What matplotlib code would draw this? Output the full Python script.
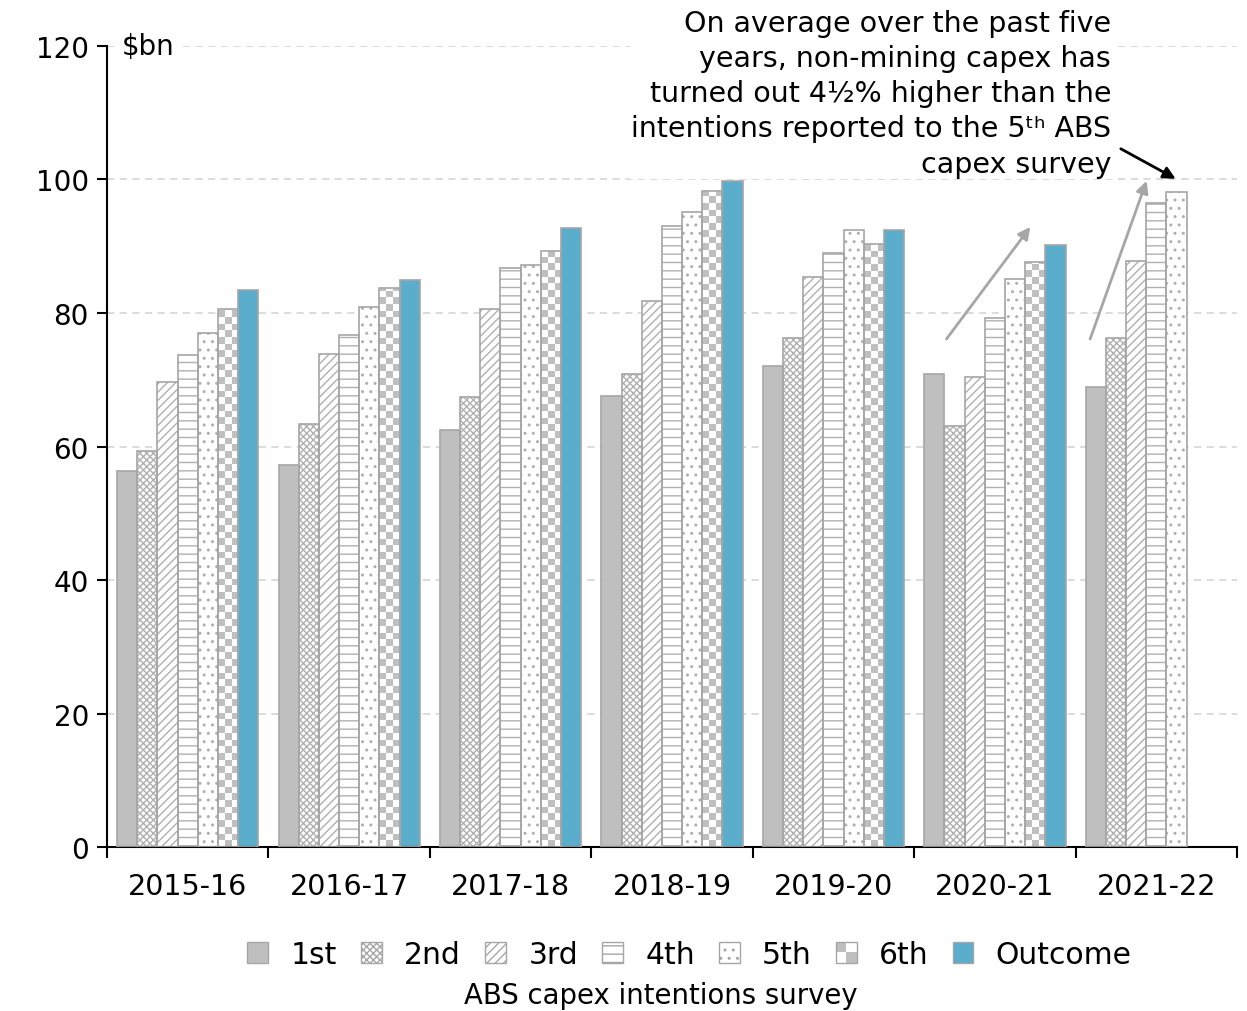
import numpy as np
import matplotlib
matplotlib.use('Agg')
import matplotlib.pyplot as plt
from matplotlib.patches import Patch, Rectangle
from matplotlib.legend_handler import HandlerBase

plt.rcParams['font.family'] = ['DejaVu Sans']
plt.rcParams['hatch.linewidth'] = 1.0

# data ($bn)
years = ['2015-16', '2016-17', '2017-18', '2018-19', '2019-20', '2020-21', '2021-22']
surveys = ['1st', '2nd', '3rd', '4th', '5th', '6th', 'Outcome']
s1st = [56.3, 57.3, 62.4, 67.5, 72.1, 70.8, 68.9]
s2nd = [59.4, 63.3, 67.4, 70.8, 76.2, 63.1, 76.2]
s3rd = [69.7, 73.8, 80.6, 81.8, 85.4, 70.4, 87.8]
s4th = [73.7, 76.7, 86.8, 93.0, 89.0, 79.2, 96.5]
s5th = [77.0, 80.9, 87.2, 95.2, 92.5, 85.1, 98.1]
s6th = [80.6, 83.7, 89.3, 98.3, 90.3, 87.7, np.nan]
outcome = [83.4, 85.0, 92.7, 99.7, 92.5, 90.2, np.nan]
series = [s1st, s2nd, s3rd, s4th, s5th, s6th, outcome]

# annotation arrows (start, end) in data coords
grey_arrows = [((4.70, 76.1), (5.22, 92.9)), ((5.59, 76.1), (5.94, 99.8))]
black_arrow = ((5.78, 104.6), (6.12, 100.1))

EDGE = '#a6a6a6'
HATCH = '#b0b0b0'
FILL = '#bfbfbf'
BLUE = '#5aadcb'
hatches = [None, 'xxxxx', '////', '--', '..', None, None]
faces = [FILL, 'white', 'white', 'white', 'white', 'white', BLUE]

fig = plt.figure(figsize=(12.47, 10.12), dpi=100)
ax = fig.add_axes([0.0858, 0.162, 0.9062, 0.7916])
ax.set_xlim(-0.5, 6.5)
ax.set_ylim(0, 120)

x = np.arange(len(years))
w = 0.125
px_per_unit = 0.7916 * 1012 / 120
sq = 6.7 / px_per_unit  # checker square height in data units

for j, vals in enumerate(series):
    xs = x + (j - 3) * w
    vals = np.array(vals, dtype=float)
    if hatches[j]:
        ax.bar(xs, vals, w, facecolor='white', edgecolor=HATCH, linewidth=0,
               hatch=hatches[j], zorder=2)
    elif j == 5:
        # big checkerboard fill, clipped to each bar
        rects = ax.bar(xs, vals, w, facecolor='white', linewidth=0, zorder=2)
        for r in rects:
            h = r.get_height()
            if not np.isfinite(h) or h <= 0:
                continue
            ny = int(np.ceil(h / sq))
            board = (np.indices((ny, 3)).sum(axis=0) % 2).astype(float)
            im = ax.imshow(board, cmap=matplotlib.colors.ListedColormap(['white', FILL]),
                           extent=(r.get_x(), r.get_x() + w, ny * sq, 0),
                           origin='upper', interpolation='nearest', aspect='auto', zorder=2)
            im.set_clip_path(r)
    else:
        ax.bar(xs, vals, w, facecolor=faces[j], linewidth=0, zorder=2)
    ax.bar(xs, vals, w, facecolor='none', edgecolor=EDGE, linewidth=1.2, zorder=3)

ax.set_xlim(-0.5, 6.5)
ax.set_ylim(0, 120)

# axes styling
for s in ['top', 'right']:
    ax.spines[s].set_visible(False)
ax.spines['left'].set_linewidth(1.5)
ax.spines['bottom'].set_linewidth(1.5)
ax.set_yticks(np.arange(0, 121, 20))
ax.tick_params(axis='y', labelsize=20, length=7, width=1.5, pad=6)
ax.yaxis.grid(True, linestyle=(0, (4, 3)), color='#d9d9d9', linewidth=1.3, zorder=0)
ax.set_axisbelow(True)
ax.set_xticks(x)
ax.set_xticklabels(years)
ax.set_xticks(np.arange(-0.5, 7, 1), minor=True)
ax.tick_params(axis='x', which='major', length=0, labelsize=20.5, pad=18)
ax.tick_params(axis='x', which='minor', length=8, width=1.5)

ax.text(-0.41, 120, r'\$bn', fontsize=20, va='center', ha='left', zorder=4,
        bbox=dict(facecolor='white', edgecolor='none', pad=2))

note = ('On average over the past five\nyears, non-mining capex has\n'
        'turned out 4½% higher than the\nintentions reported to the 5ᵗʰ ABS\n'
        'capex survey')
ax.text(5.72, 125.6, note, fontsize=20.5, ha='right', va='top', multialignment='right',
        linespacing=1.33, clip_on=False, zorder=4,
        bbox=dict(facecolor='white', edgecolor='none', pad=1))

for a, b in grey_arrows:
    ax.annotate('', xy=b, xytext=a, zorder=5, annotation_clip=False,
                arrowprops=dict(arrowstyle='-|>', color=EDGE, lw=2, mutation_scale=18,
                                shrinkA=0, shrinkB=0))
ax.annotate('', xy=black_arrow[1], xytext=black_arrow[0], zorder=5, annotation_clip=False,
            arrowprops=dict(arrowstyle='-|>', color='black', lw=2, mutation_scale=18,
                            shrinkA=0, shrinkB=0))


class CheckerHandler(HandlerBase):
    def create_artists(self, legend, orig_handle, xdescent, ydescent, width, height,
                       fontsize, trans):
        arts = []
        hw, hh = width / 2, height / 2
        for i in range(2):
            for k in range(2):
                col = FILL if (i + k) % 2 == 1 else 'white'
                arts.append(Rectangle((-xdescent + i * hw, -ydescent + k * hh), hw, hh,
                                      facecolor=col, edgecolor='none', transform=trans))
        arts.append(Rectangle((-xdescent, -ydescent), width, height, facecolor='none',
                              edgecolor=EDGE, linewidth=1, transform=trans))
        return arts


handles = []
for j in range(7):
    if j == 5:
        handles.append(Patch(facecolor='white', edgecolor=EDGE))
    else:
        handles.append(Patch(facecolor=faces[j], edgecolor=EDGE, hatch=hatches[j]))
fig.legend(handles, surveys, loc='center', bbox_to_anchor=(0.553, 0.056), ncol=7,
           frameon=False, fontsize=21.5, handlelength=0.7, handleheight=0.7,
           handletextpad=0.75, columnspacing=0.8,
           handler_map={handles[5]: CheckerHandler()})
fig.text(0.530, 0.016, 'ABS capex intentions survey', fontsize=19.8, ha='center', va='center')

fig.savefig('out.png', dpi=100)
